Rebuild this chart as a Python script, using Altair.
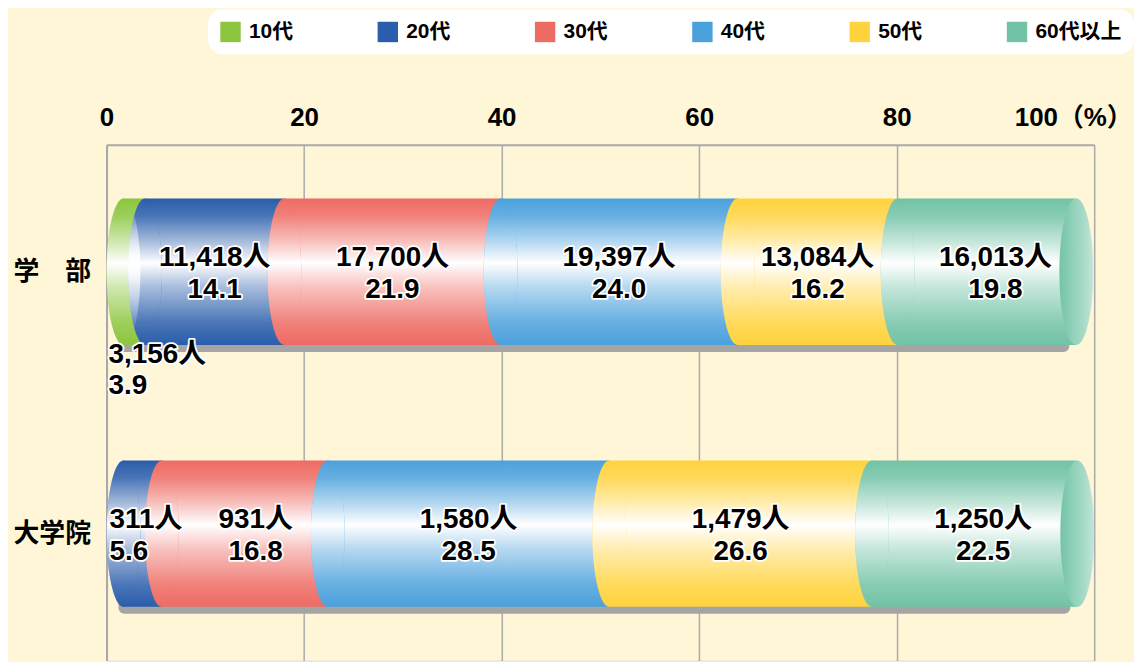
import altair as alt
import pandas as pd

FONT = "Liberation Sans, Noto Sans CJK JP, sans-serif"

groups = ["学　部", "大学院"]
ages = ["10代", "20代", "30代", "40代", "50代", "60代以上"]
colors = ["#8CC63E", "#2A5DAB", "#EE6B63", "#4BA1DC", "#FFD33D", "#72C3A6"]

gakubu_counts = [3156, 11418, 17700, 19397, 13084, 16013]
gakubu_pct = [3.9, 14.1, 21.9, 24.0, 16.2, 19.8]
daigakuin_counts = [0, 311, 931, 1580, 1479, 1250]
daigakuin_pct = [0, 5.6, 16.8, 28.5, 26.6, 22.5]

label_modes = {("学　部", "10代"): "below", ("大学院", "20代"): "left"}
label_shift = {("大学院", "30代"): 1.1}

rows = []
for g, cnts, pcts in [(groups[0], gakubu_counts, gakubu_pct),
                      (groups[1], daigakuin_counts, daigakuin_pct)]:
    present = [i for i in range(len(ages)) if cnts[i]]
    s = 0.0
    for k, i in enumerate(present):
        e = s + pcts[i]
        rows.append(dict(group=g, age=ages[i], start=s, end=e,
                         mid=(s + e) / 2 + label_shift.get((g, ages[i]), 0),
                         first=(k == 0), last=(k == len(present) - 1),
                         cnt=f"{cnts[i]:,}人", pct=f"{pcts[i]:.1f}",
                         mode=label_modes.get((g, ages[i]), "center")))
        s = e
df = pd.DataFrame(rows)

BAR_H = 147
CAP = 17
RX = CAP / (BAR_H / 2)
ELL = f"M0,-1 A{RX:.3f},1 0 1,1 0,1 A{RX:.3f},1 0 1,1 0,-1 Z"

Y = alt.Y("group:N", title=None,
          scale=alt.Scale(domain=groups, paddingInner=0.441, paddingOuter=0.205),
          axis=alt.Axis(labelFont=FONT, labelFontSize=26, labelFontWeight="bold",
                        labelColor="black", ticks=False, domainColor="#A8A8A8",
                        domainWidth=2, labelPadding=16, grid=False))

xaxis = alt.Axis(orient="top", values=[0, 20, 40, 60, 80, 100],
                 labelExpr="datum.value == 100 ? '100（%）' : datum.label",
                 labelFont=FONT, labelFontSize=26, labelFontWeight="bold",
                 labelColor="black", ticks=False, grid=True, gridColor="#ABABAB",
                 gridWidth=1.5, domainColor="#ABABAB", domainWidth=2,
                 labelPadding=14, labelFlush=False,
                 labelOffset={"condition": {"test": "datum.value === 100", "value": -21}, "value": 0})
xscale = alt.Scale(domain=[0, 100], nice=False)


def X(field):
    return alt.X(f"{field}:Q", scale=xscale, axis=xaxis, title=None)


C = alt.Color("age:N", scale=alt.Scale(domain=ages, range=colors),
              legend=alt.Legend(title=None, orient="none", legendX=102, legendY=-136,
                                direction="horizontal", columns=6, symbolType="square",
                                symbolSize=420, symbolStrokeWidth=0, symbolOpacity=1,
                                labelFont=FONT, labelFontSize=21, labelFontWeight="bold",
                                labelColor="black", columnPadding=84, padding=12,
                                fillColor="white", cornerRadius=14, labelOffset=8))

shine = alt.Gradient(
    gradient="linear", x1=0, x2=0, y1=0, y2=1,
    stops=[alt.GradientStop(color="rgba(255,255,255,0)", offset=0),
           alt.GradientStop(color="rgba(255,255,255,0.15)", offset=0.12),
           alt.GradientStop(color="rgba(255,255,255,0.6)", offset=0.3),
           alt.GradientStop(color="rgba(255,255,255,1)", offset=0.44),
           alt.GradientStop(color="rgba(255,255,255,0.6)", offset=0.6),
           alt.GradientStop(color="rgba(255,255,255,0.15)", offset=0.85),
           alt.GradientStop(color="rgba(255,255,255,0)", offset=1)])

capfill = alt.Gradient(
    gradient="linear", x1=0, x2=1, y1=0, y2=0,
    stops=[alt.GradientStop(color="#74C4A8", offset=0),
           alt.GradientStop(color="#A6DAC6", offset=0.7),
           alt.GradientStop(color="#C2E6D8", offset=1)])

base = alt.Chart(df)

rows_df = df.groupby("group", as_index=False).agg(lo=("start", "min"), hi=("end", "max"))
shadow = alt.Chart(rows_df).mark_bar(color="#A5A5A5", xOffset=12, x2Offset=-24,
                                     yOffset=7, y2Offset=7, cornerRadius=6).encode(
    x=X("lo"), x2="hi", y=Y)

sel_first = "datum.first"
sel_mid = "!datum.first && !datum.last"
sel_last = "datum.last && !datum.first"

layers = [shadow]
# coloured bodies
layers.append(base.transform_filter(sel_first).mark_bar(xOffset=CAP, x2Offset=0).encode(
    x=X("start"), x2="end", y=Y, color=C))
layers.append(base.transform_filter(sel_mid).mark_bar().encode(
    x=X("start"), x2="end", y=Y, color=C))
layers.append(base.transform_filter(sel_last).mark_bar(x2Offset=-CAP).encode(
    x=X("start"), x2="end", y=Y, color=C))
# shine on bodies
layers.append(base.transform_filter(sel_first).mark_bar(xOffset=CAP, x2Offset=0, fill=shine).encode(
    x=X("start"), x2="end", y=Y))
layers.append(base.transform_filter(sel_mid).mark_bar(fill=shine).encode(
    x=X("start"), x2="end", y=Y))
layers.append(base.transform_filter(sel_last).mark_bar(x2Offset=-CAP, fill=shine).encode(
    x=X("start"), x2="end", y=Y))
# elliptical left ends
layers.append(base.transform_filter("datum.first").mark_point(
    shape=ELL, size=BAR_H ** 2, filled=True, opacity=1, strokeWidth=0, xOffset=CAP).encode(
    x=X("start"), y=Y, color=C))
layers.append(base.transform_filter("!datum.first").mark_point(
    shape=ELL, size=BAR_H ** 2, filled=True, opacity=1, strokeWidth=0).encode(
    x=X("start"), y=Y, color=C))
layers.append(base.transform_filter("datum.first").mark_point(
    shape=ELL, size=BAR_H ** 2, filled=True, opacity=1, strokeWidth=0, fill=shine, xOffset=CAP).encode(
    x=X("start"), y=Y))
layers.append(base.transform_filter("!datum.first").mark_point(
    shape=ELL, size=BAR_H ** 2, filled=True, opacity=1, strokeWidth=0, fill=shine).encode(
    x=X("start"), y=Y))
# right end cap
layers.append(base.transform_filter("datum.last").mark_point(
    shape=ELL, size=BAR_H ** 2, filled=True, opacity=1, strokeWidth=0, fill=capfill, xOffset=-CAP).encode(
    x=X("end"), y=Y))

# labels
label_specs = [
    ("center", "mid", "center", 0, [("cnt", -14), ("pct", 18)]),
    ("left", "start", "left", 3, [("cnt", -14), ("pct", 18)]),
    ("below", "start", "left", 2, [("cnt", 84), ("pct", 115)]),
]
for mode, xfield, align, dx, lines in label_specs:
    for field, dy in lines:
        for halo in (True, False):
            kw = dict(align=align, baseline="middle", dx=dx, dy=dy, font=FONT,
                      fontSize=28, fontWeight="bold")
            if halo:
                kw.update(stroke="white", strokeWidth=3.5, strokeJoin="round", fill="white")
            else:
                kw.update(fill="black")
            layers.append(base.transform_filter(f"datum.mode == '{mode}'").mark_text(**kw).encode(
                x=X(xfield), y=Y, text=f"{field}:N"))

chart = alt.layer(*layers).properties(width=992, height=518).configure_view(
    stroke=None).configure(background="#FFF5D7",
                           padding={"left": 4, "top": 0, "right": 0, "bottom": 0})

chart.save("out.html", embed_options={"renderer": "svg", "actions": False})
